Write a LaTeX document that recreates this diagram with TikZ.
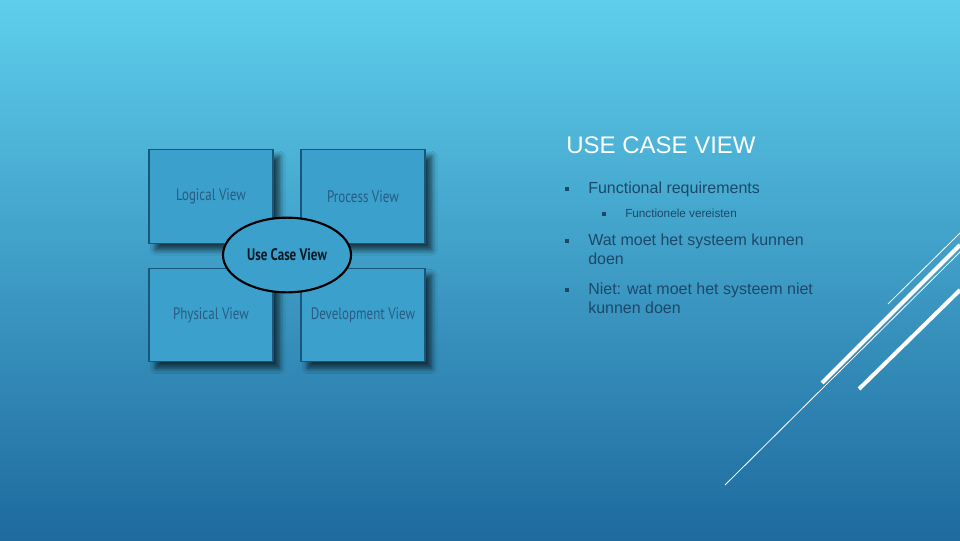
\documentclass[tikz,border=0pt]{standalone}
\usepackage{fontspec}
\setmainfont{Liberation Sans}
\newfontfamily\viewfont{PT Sans}[FakeStretch=0.78]
\usetikzlibrary{shapes.geometric,shadows.blur}
\definecolor{bgtop}{RGB}{94,206,236}
\definecolor{bgbot}{RGB}{30,106,158}
\definecolor{boxfill}{RGB}{60,160,205}
\definecolor{boxline}{RGB}{24,86,124}
\definecolor{boxtext}{RGB}{40,92,130}
\definecolor{slidetext}{RGB}{28,72,106}
\tikzset{
  viewbox/.style={draw=boxline, line width=0.8pt, fill=boxfill,
    minimum width=93pt, minimum height=70pt, inner sep=0pt,
    font=\viewfont\fontsize{12.5}{14}\selectfont, text=boxtext,
    blur shadow={shadow xshift=5pt, shadow yshift=-5pt, shadow blur steps=8,
      shadow opacity=65, shadow blur radius=4pt}},
  usecase/.style={ellipse, draw=black, line width=1.6pt, fill=boxfill,
    minimum width=96pt, minimum height=56pt, inner sep=0pt,
    font=\viewfont\bfseries\fontsize{12.5}{15}\selectfont, text=black!70!boxline},
  bulletmark/.style={fill=slidetext, minimum size=2.6pt, inner sep=0pt},
  listitem/.style={anchor=base west, inner sep=0pt, text=slidetext,
    font=\fontsize{12}{14}\selectfont},
  sublistitem/.style={listitem, font=\fontsize{8.8}{10}\selectfont},
  decothin/.style={white, line width=0.6pt},
  decothick/.style={white, line width=3pt}
}
\begin{document}
\begin{tikzpicture}[x=0.75pt,y=-0.75pt]
  \useasboundingbox (0,0) rectangle (960,540);
  \shade[top color=bgtop, bottom color=bgbot] (0,0) rectangle (960,540);

  % the four views
  \node[viewbox] (logical) at (211,196.5) {Logical View};
  \node[viewbox] (process) at (363,196.5) {Process View};
  \node[viewbox] (physical) at (211,315) {Physical View};
  \node[viewbox] (development) at (363,315) {Development View};
  \node[usecase] (usecase) at (287,255) {Use Case View};

  % slide text
  \node[anchor=base west, inner sep=0pt, text=white,
    font=\fontsize{18}{20}\selectfont] (title) at (566,153) {USE CASE VIEW};
  \node[bulletmark] (b1) at (567,189) {}; \node[listitem] (req) at (588,193) {Functional requirements};
  \node[bulletmark] (b2) at (604,214) {}; \node[sublistitem] (vereist) at (625,217) {Functionele vereisten};
  \node[bulletmark] (b3) at (567,241) {}; \node[listitem] (wat) at (588,245) {Wat moet het systeem kunnen};
  \node[listitem] (wat2) at (588,264) {doen};
  \node[bulletmark] (b4) at (567,290) {}; \node[listitem] (niet) at (588,294) {Niet: wat moet het systeem niet};
  \node[listitem] (niet2) at (588,313) {kunnen doen};

  % corner lines
  \draw[decothin] (888,304) -- (960,233);
  \draw[decothick] (822,383) -- (960,245);
  \draw[decothin] (725,485) -- (960,252);
  \draw[decothick] (859,389) -- (960,290);
\end{tikzpicture}
\end{document}
